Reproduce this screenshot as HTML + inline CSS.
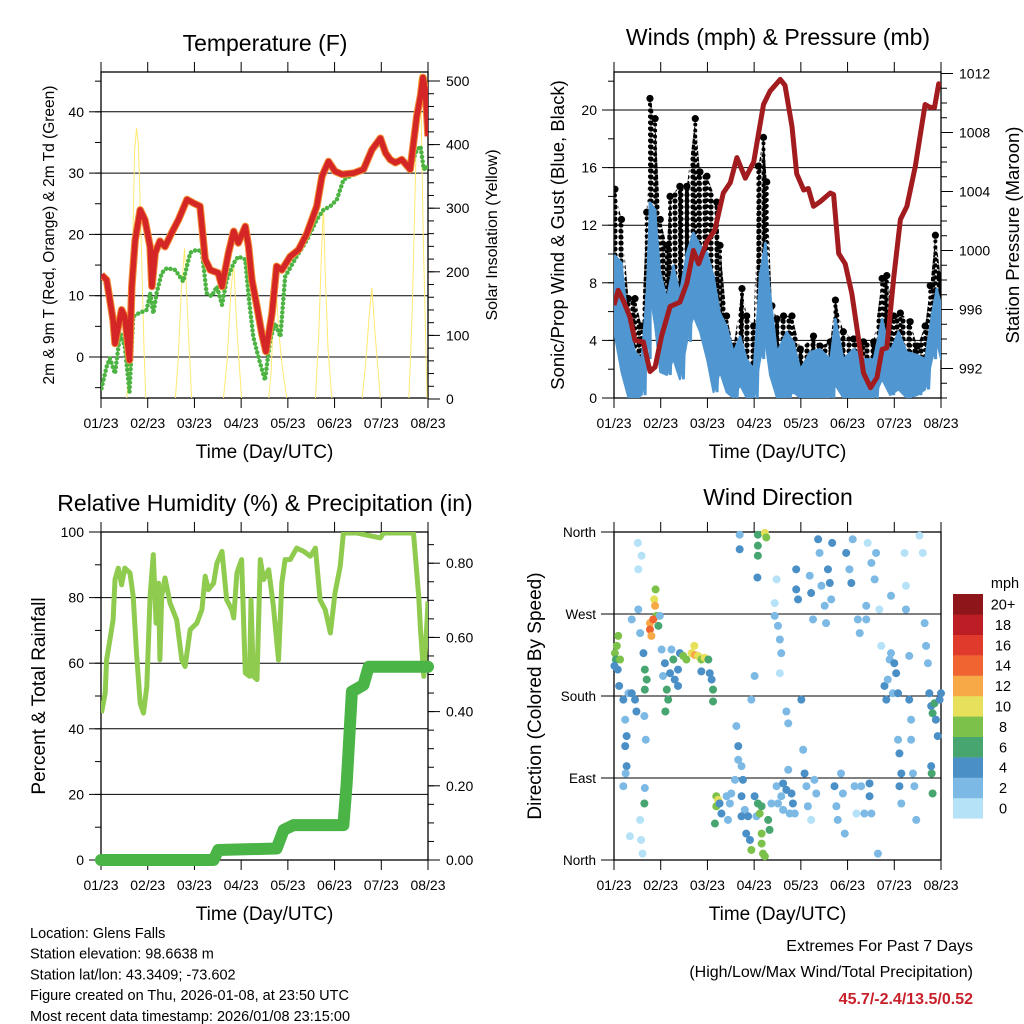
<!DOCTYPE html>
<html><head><meta charset="utf-8"><style>
html,body{margin:0;padding:0;background:#fff;}
svg{display:block;font-family:"Liberation Sans",Arial,sans-serif;}
</style></head><body>
<svg id="fig" width="1024" height="1024" viewBox="0 0 1024 1024" xmlns="http://www.w3.org/2000/svg">
<defs>
<clipPath id="c1"><rect x="101" y="72" width="327" height="326"/></clipPath>
<clipPath id="c2"><rect x="614" y="72" width="327" height="326"/></clipPath>
<clipPath id="c3"><rect x="101" y="532" width="327" height="328"/></clipPath>
<clipPath id="c4"><rect x="610" y="528" width="335" height="336"/></clipPath>
<pattern id="dots" width="6" height="6" patternUnits="userSpaceOnUse"><circle cx="3" cy="3" r="2.6" fill="#000"/></pattern>
</defs>
</svg>
<script>
// ---------- Temperature panel data ----------
const tempT=[0.01,0.12,0.19,0.26,0.3,0.37,0.44,0.51,0.61,0.66,0.73,0.84,0.94,1.05,1.09,1.16,1.26,1.37,1.51,1.66,1.84,1.98,2.12,2.23,2.34,2.51,2.59,2.73,2.84,2.94,3.09,3.16,3.23,3.34,3.44,3.53,3.66,3.76,3.87,4.05,4.23,4.41,4.62,4.73,4.87,5.01,5.16,5.41,5.62,5.8,5.98,6.09,6.19,6.3,6.44,6.62,6.76,6.84,6.89,6.94,6.99,7.0];
const tempV=[13.4,12.6,9.3,6,2.2,5,7.7,6.6,-0.5,11.5,19,24,22.4,18,11.5,17,18.9,18,20.2,22.4,25.7,25.1,24.6,15.9,14.2,13.7,11.5,17,20.5,18.6,21.3,18,12.6,8.2,3.9,0.9,7.1,14.8,14.2,16.4,17.5,20.2,24.6,29.5,31.9,30.3,29.8,30,30.6,33.8,35.7,33.3,32.2,31.7,32.2,30.6,39.3,42.6,45.6,43.7,37.7,36];
const dewT=[0.01,0.12,0.19,0.3,0.41,0.51,0.61,0.69,0.8,0.98,1.05,1.12,1.19,1.3,1.41,1.59,1.76,1.91,2.05,2.16,2.26,2.37,2.48,2.59,2.69,2.84,2.94,3.09,3.16,3.26,3.37,3.51,3.62,3.73,3.84,3.94,4.19,4.41,4.62,4.76,4.91,5.05,5.19,5.41,5.62,5.8,5.98,6.09,6.19,6.44,6.62,6.73,6.84,6.91,6.98,7.0];
const dewV=[-5.1,-1.6,-0.2,-2.7,3.9,1.7,-5.7,6.6,7.1,7.7,10.4,7.1,10.4,13.7,14.5,14.2,12.3,17,17.5,17.2,10.4,9.9,11.5,8.5,12.6,15.3,16.4,15.9,9.9,3.3,0,-3.8,2.8,5.5,3.3,13.1,16.4,19.1,22.4,24,24.6,25.7,28.9,29.8,30.6,33.6,34.9,33,32.2,31.9,30.3,33.3,34.4,30.6,31.1,30.6];
const solarT=[0,0.55,0.62,0.68,0.72,0.76,0.80,0.86,0.92,0.96,1.59,1.65,1.72,1.79,1.85,1.94,2.62,2.70,2.78,2.84,2.90,3.01,3.59,3.64,3.70,3.73,3.80,3.88,3.98,4.59,4.66,4.72,4.76,4.80,4.86,4.94,5.59,5.67,5.74,5.80,5.86,5.98,6.59,6.66,6.74,6.80,6.84,6.90,6.98,7.0];
const solarV=[0,0,80,250,390,426,400,250,80,0,0,60,170,237,140,0,0,60,170,214,120,0,0,40,140,209,110,50,0,0,100,230,302,200,80,0,0,60,130,175,110,0,0,130,380,500,512,250,0,0];
// ---------- Wind / pressure data ----------
const windT=[0.02,0.16,0.31,0.45,0.59,0.70,0.77,0.88,0.99,1.13,1.27,1.41,1.56,1.70,1.84,1.99,2.13,2.27,2.41,2.56,2.70,2.84,2.99,3.13,3.24,3.34,3.49,3.70,3.84,3.99,4.20,4.41,4.63,4.74,4.91,5.13,5.34,5.56,5.74,5.91,6.09,6.27,6.49,6.66,6.81,6.91,7.0];
const windHi=[9.9,9.4,5,3.2,2.7,7.3,13.6,13.1,8.7,6.9,9.2,7.3,10.1,11.5,10.6,10.1,8.5,5.9,5,3.2,4.3,2.7,2,8.7,10.8,7.3,3.2,4.6,3.9,2,3.2,3.4,2.7,5.5,2.7,3.4,2.7,2.7,5.5,3.2,4.6,3.2,3,2.7,5.9,7.6,6.5];
const windLo=[4.3,1.8,0,0,0.2,2.7,7.3,5,1.8,1.6,2.7,1.3,3.9,5.7,4.6,2.7,0.4,1.8,0.4,0,0.9,0,0,2.7,3.9,1.6,0,0,0.4,0,0,0,0,0.9,0,0,0,0,1.3,0.2,0.6,0,0.2,0.6,2.7,3.9,2.7];
const gustT=[0.02,0.16,0.31,0.45,0.59,0.70,0.77,0.88,0.99,1.13,1.20,1.41,1.56,1.74,1.84,1.99,2.20,2.27,2.41,2.56,2.74,2.84,2.99,3.09,3.20,3.27,3.38,3.49,3.63,3.81,3.99,4.27,4.41,4.63,4.74,4.91,5.13,5.34,5.56,5.74,5.84,5.99,6.13,6.34,6.49,6.66,6.77,6.88,6.99];
const gustV=[14.5,12.4,6.9,6.9,5,12.9,20.8,19.4,12.4,10.6,14,14.7,14.7,19.4,15.7,15.4,13.6,10.6,5.7,3.6,7.6,5.7,5,16.1,18.1,15,6.4,5.5,5.7,5.7,3.4,4.3,3.6,3.9,6.8,4.6,4.1,3.9,3.9,8.3,8.5,5.7,5.9,5.3,3.6,5,7.8,11.3,8.5];
const presT=[0,0.09,0.2,0.34,0.45,0.63,0.77,0.88,1.02,1.2,1.41,1.56,1.7,1.81,1.99,2.16,2.34,2.49,2.63,2.81,2.99,3.2,3.34,3.56,3.66,3.81,3.91,4.06,4.16,4.27,4.41,4.63,4.7,4.81,4.95,5.09,5.34,5.49,5.63,5.74,5.84,5.99,6.13,6.27,6.45,6.66,6.77,6.86,6.95,7.0];
const presV=[996.3,997.3,996.6,995.5,993.9,993.8,991.8,992.1,994.2,996.2,996.5,997.8,1000.0,999.1,1000.6,1001.4,1003.9,1004.6,1006.3,1004.9,1006.0,1009.9,1010.8,1011.6,1011.2,1008.4,1005.2,1004.1,1004.2,1003.0,1003.3,1003.9,1003.8,999.8,999.1,997.1,991.7,990.7,991.4,993.3,993.4,998.2,1002.1,1003.0,1005.7,1009.9,1009.7,1009.7,1011.3,1011.2];
// ---------- RH / precip data ----------
const rhT=[0.01,0.09,0.12,0.19,0.26,0.3,0.37,0.44,0.51,0.62,0.69,0.76,0.84,0.91,0.98,1.05,1.12,1.18,1.23,1.26,1.3,1.37,1.48,1.62,1.73,1.8,1.91,2.05,2.16,2.23,2.3,2.41,2.48,2.59,2.69,2.8,2.84,2.91,3.01,3.09,3.18,3.21,3.26,3.34,3.41,3.48,3.59,3.69,3.8,3.87,3.94,4.05,4.19,4.34,4.48,4.59,4.69,4.8,4.91,5.01,5.12,5.19,5.48,5.98,6.05,6.69,6.8,6.84,6.91,6.98,7.0];
const rhV=[44.8,50.9,61,67.1,73.2,85.5,89,83.9,89,87.5,80.4,63.1,47.8,44.8,52.9,80.4,93.1,72.2,84.4,61,80.4,86,78.3,73.2,61,59,70.2,72.2,76.3,86.5,82.4,84.4,90.5,94.1,79.3,76.3,73.8,87.5,91.6,57,56,79.3,56,55,91.6,85.5,88.5,77.3,61,84.4,91.6,91.6,95.1,94.1,92.6,95.1,79.3,76.3,69.2,81.4,89.5,99.7,99.7,98.2,99.7,99.7,80.4,70.2,56,73.2,78.8];
const precT=[0,2.41,2.51,3.76,3.91,4.12,5.19,5.26,5.37,5.62,5.73,7.0];
const precV=[0,0,0.027,0.031,0.081,0.094,0.094,0.207,0.454,0.472,0.521,0.521];
// ---------- Wind direction data ----------
const wdT=[0.02,0.06,0.09,0.04,0.08,0.11,0.13,0.01,0.20,0.24,0.27,0.24,0.27,0.25,0.20,0.31,0.38,0.45,0.48,0.52,0.52,0.59,0.51,0.38,0.56,0.63,0.66,0.70,0.66,0.65,0.68,0.66,0.65,0.56,0.58,0.61,0.34,0.77,0.77,0.80,0.86,0.88,0.89,0.91,0.95,0.84,0.98,1.02,1.09,1.05,1.13,1.16,1.10,1.20,1.27,1.30,1.37,1.41,1.48,1.55,1.66,1.72,1.73,1.80,1.87,1.94,2.02,2.05,2.09,2.12,2.12,1.87,1.37,1.23,2.19,2.19,2.23,2.16,2.26,2.30,2.41,2.44,2.48,2.51,2.59,2.62,2.66,2.66,2.73,2.76,2.73,2.80,2.73,2.83,2.87,2.91,2.94,3.01,3.05,3.08,3.12,3.16,3.16,3.19,3.23,3.16,3.30,3.33,3.37,2.69,2.69,3.08,3.08,3.08,3.23,3.26,3.07,3.01,2.94,3.44,3.48,3.51,3.55,3.58,3.55,3.44,3.48,3.51,3.58,3.62,3.62,3.69,3.73,3.76,3.80,3.83,3.87,3.69,3.73,3.90,3.90,3.94,4.01,4.05,4.08,4.12,4.15,4.19,4.22,4.26,4.22,4.29,4.33,4.37,4.40,4.44,4.51,4.54,4.58,4.62,4.65,4.67,4.72,4.76,4.79,4.86,4.90,4.94,4.97,5.04,5.08,5.11,5.15,5.19,5.22,5.26,5.29,5.36,5.40,5.40,5.43,5.51,5.58,5.61,5.47,5.47,5.51,5.65,5.68,5.72,5.79,5.83,5.86,5.90,5.93,5.93,5.97,6.00,6.04,6.08,6.08,6.11,6.15,6.11,6.15,6.22,6.25,6.25,6.32,6.32,6.36,6.36,6.40,6.43,6.47,6.54,6.61,6.65,6.68,6.72,6.75,6.79,6.82,6.86,6.89,6.93,6.97,7.00,6.80,6.82,6.79];
const wdDir=[227,235,246,220,209,191,220,213,176,154,136,125,103,95,81,183,183,176,163,275,319,334,348,264,249,227,209,198,187,158,132,79,62,44,22,7,26,260,253,246,286,279,297,268,257,264,268,231,216,202,187,176,163,205,220,198,209,227,224,220,227,235,225,224,220,222,220,205,198,187,174,207,191,231,70,59,66,40,62,51,70,44,62,73,88,147,125,110,103,88,70,55,48,29,48,22,11,70,48,62,51,59,29,7,4,18,44,33,62,341,357,334,345,357,359,354,310,202,176,282,308,257,242,227,205,268,81,62,70,84,55,77,99,51,73,62,51,163,150,319,297,286,176,121,95,81,59,312,293,264,44,88,73,352,337,301,279,260,319,304,286,348,81,59,44,95,73,29,337,319,304,352,81,51,264,249,81,51,279,264,348,326,308,337,84,70,51,7,275,235,191,176,198,220,290,227,183,216,205,183,132,117,95,81,62,337,301,275,224,176,154,132,95,81,44,356,337,260,235,216,183,169,161,172,154,136,176,183,95,73,103];
const wdSpd=[9,8,8,6,4,4,9,5,4,3,4,4,4,3,2,3,4,4,4,2,1,1,1,2,3,5,6,7,6,3,3,3,6,1,1,1,1,13,14,12,10,12,8,8,7,15,3,3,4,3,6,6,7,4,6,4,4,4,9,8,10,11,12,10,9,11,7,4,4,6,7,4,4,3,9,8,11,6,4,5,3,3,3,2,3,2,4,2,3,4,4,2,5,4,5,4,9,4,3,6,8,7,8,9,8,8,6,7,3,4,3,7,7,7,10,9,4,2,2,1,1,2,3,2,1,2,3,2,3,4,2,4,3,3,4,4,2,2,2,4,4,4,4,3,4,3,2,2,4,3,1,2,3,4,3,3,3,3,4,4,2,4,4,3,3,2,3,2,4,3,4,2,2,1,3,3,2,3,3,3,1,3,3,2,4,4,2,2,1,1,4,4,3,2,3,2,3,4,4,4,3,4,4,4,3,1,1,2,3,4,3,2,2,3,2,1,1,2,2,3,4,4,6,7,4,4,4,4,6,6,4];
const speedColors=['#b6e2f8','#7cb9e4','#4a8fc6','#47a56f','#7cc14a','#e6e05a','#f6a946','#ef6430','#df3a2b','#bd1d25','#8e161a'];
const speedLabels=['0','2','4','6','8','10','12','14','16','18','20+'];
const dayLabels=['01/23','02/23','03/23','04/23','05/23','06/23','07/23','08/23'];

const svg=document.getElementById('fig');
const NS='http://www.w3.org/2000/svg';
function mk(tag,attrs,parent){const e=document.createElementNS(NS,tag);for(const k in attrs)e.setAttribute(k,attrs[k]);(parent||svg).appendChild(e);return e;}
function txt(s,x,y,size,anchor,parent,extra){const e=mk('text',Object.assign({x:x,y:y,'font-size':size,'text-anchor':anchor||'middle',fill:'#000'},extra||{}),parent);e.textContent=s;return e;}

const P={
 p1:{x0:101,x1:428,y0:72,y1:398},
 p2:{x0:614,x1:941,y0:72,y1:398},
 p3:{x0:101,x1:428,y0:532,y1:860},
 p4:{x0:614,x1:941,y0:532,y1:860}
};
function xs(p,d){return p.x0+d/7*(p.x1-p.x0);}
const yTemp=v=>357-v*6.13;
const ySolar=v=>399-v*0.636;
const yWind=v=>398-v*14.4;
const yPres=v=>398-(v-990)*14.75;
const yRH=v=>860-v*3.28;
const yPrec=v=>860-v*371;
const yDir=v=>860-v*(328/360);

function ptsStr(p,T,V,fy){return T.map((t,i)=>xs(p,t).toFixed(1)+','+fy(V[i]).toFixed(1)).join(' ');}

function frame(p,name){
 const g=mk('g',{});
 
 
 mk('rect',{x:p.x0,y:p.y0,width:p.x1-p.x0,height:p.y1-p.y0,fill:'none',stroke:'#000','stroke-width':1.3},g);
 for(let d=0;d<=7;d++){const x=xs(p,d);
  mk('line',{x1:x,y1:p.y0,x2:x,y2:p.y0-10,stroke:'#000','stroke-width':1},g);
  mk('line',{x1:x,y1:p.y1,x2:x,y2:p.y1+10,stroke:'#000','stroke-width':1},g);
  const t=txt(dayLabels[d],x,p.y1+30,14,'middle',g);
  
  
 }
 const xt=txt('Time (Day/UTC)',(p.x0+p.x1)/2,p.y1+60,19,'middle',g);
 
 
 return g;
}
function yAxis(p,g,majors,minors,fy,side,fmt,grid){
 const x=side==='left'?p.x0:p.x1, s=side==='left'?-1:1;
 minors.forEach(v=>{const y=fy(v);if(y<p.y0-1||y>p.y1+1)return;mk('line',{x1:x,y1:y,x2:x+s*6,y2:y,stroke:'#000','stroke-width':1},g);});
 majors.forEach(v=>{const y=fy(v);
  if(grid)mk('line',{x1:p.x0,y1:y,x2:p.x1,y2:y,stroke:'#000','stroke-width':1},g);
  mk('line',{x1:x,y1:y,x2:x+s*12,y2:y,stroke:'#000','stroke-width':1},g);
  const t=txt(fmt(v),side==='left'?x-17:x+18,y+5,14,side==='left'?'end':'start',g);
  
  
 });
}
function range(a,b,s){const r=[];for(let v=a;v<=b+1e-9;v+=s)r.push(+v.toFixed(4));return r;}
function vtitle(s,x,y,size,g,name){const t=txt(s,x,y,size,'middle',g,{transform:'rotate(-90 '+x+' '+y+')'});
 
 }
function title(s,x,y,name){const t=txt(s,x,y,23,'middle');
 
 }
function interp(T,V,t){if(t<=T[0])return V[0];for(let i=1;i<T.length;i++){if(t<=T[i]){const f=(t-T[i-1])/(T[i]-T[i-1]);return V[i-1]+f*(V[i]-V[i-1]);}}return V[V.length-1];}

// ===== Panel 1 =====
title('Temperature (F)',265,51,'temperature-title');
let g1=frame(P.p1,'temperature');
yAxis(P.p1,g1,range(0,40,10),range(-5,45,5),yTemp,'left',v=>String(v),true);
yAxis(P.p1,g1,range(0,500,100),range(0,500,20),ySolar,'right',v=>String(v),false);
vtitle('2m & 9m T (Red, Orange) & 2m Td (Green)',54,235,15.5,g1,'temperature-y-title');
vtitle('Solar Insolation (Yellow)',497,235,16,g1,'solar-y-title');
const c1=mk('g',{'clip-path':'url(#c1)'});


const sol=mk('polyline',{points:ptsStr(P.p1,solarT,solarV,ySolar),fill:'none',stroke:'#ffe970','stroke-width':1},c1);


const dew=mk('polyline',{points:ptsStr(P.p1,dewT,dewV,yTemp),fill:'none',stroke:'#4db343','stroke-width':4.5,'stroke-linecap':'round','stroke-dasharray':'0 4.5'},c1);


const t9=mk('polyline',{points:ptsStr(P.p1,tempT,tempV,yTemp),fill:'none',stroke:'#f28a33','stroke-width':7.5,'stroke-linejoin':'round'},c1);


const t2=mk('polyline',{points:ptsStr(P.p1,tempT,tempV,yTemp),fill:'none',stroke:'#d42626','stroke-width':5.5,'stroke-linejoin':'round'},c1);



// ===== Panel 2 =====
title('Winds (mph) & Pressure (mb)',778,45,'winds-title');
let g2=frame(P.p2,'winds');
yAxis(P.p2,g2,range(0,20,4),range(0,22,2),yWind,'left',v=>String(v),true);
yAxis(P.p2,g2,range(992,1012,4),range(990,1012,1),yPres,'right',v=>String(v),false);
vtitle('Sonic/Prop Wind & Gust (Blue, Black)',564,235,18.5,g2,'wind-y-title');
vtitle('Station Pressure (Maroon)',1019,235,18.5,g2,'pressure-y-title');
const c2=mk('g',{'clip-path':'url(#c2)'});


const gustBand=ptsStr(P.p2,gustT,gustV,yWind)+' '+ptsStr(P.p2,windT.slice().reverse(),windLo.slice().reverse(),yWind);
const gb=mk('polygon',{points:gustBand,fill:'url(#dots)',stroke:'none'},c2);


gustT.forEach((t,i)=>{const x=xs(P.p2,t);const wl=interp(windT,windHi,t);
 const ln=mk('line',{x1:x,y1:yWind(gustV[i]),x2:x,y2:yWind(wl),stroke:'#000','stroke-width':4,'stroke-linecap':'round','stroke-dasharray':'0 6'},c2);
 
 
 const d=mk('circle',{cx:x,cy:yWind(gustV[i]),r:3.6,fill:'#000'},c2);
 
 });
const wb=mk('polygon',{points:ptsStr(P.p2,windT,windHi,yWind)+' '+ptsStr(P.p2,windT.slice().reverse(),windLo.slice().reverse(),yWind),fill:'#5096d1',stroke:'#5096d1','stroke-width':2,'stroke-linejoin':'round'},c2);


const zz=[];windT.forEach((t,i)=>{zz.push(xs(P.p2,t).toFixed(1)+','+yWind(windHi[i]).toFixed(1));zz.push((xs(P.p2,t)+3.5).toFixed(1)+','+yWind(windLo[i]).toFixed(1));});
const wz=mk('polyline',{points:zz.join(' '),fill:'none',stroke:'#5096d1','stroke-width':3},c2);


const pr=mk('polyline',{points:ptsStr(P.p2,presT,presV,yPres),fill:'none',stroke:'#a21b1e','stroke-width':5,'stroke-linejoin':'round'},c2);



// ===== Panel 3 =====
title('Relative Humidity (%) & Precipitation (in)',265,511,'humidity-title');
let g3=frame(P.p3,'humidity');
yAxis(P.p3,g3,range(0,100,20),range(0,100,10),yRH,'left',v=>String(v),true);
yAxis(P.p3,g3,range(0,0.8,0.2),range(0,0.85,0.05),yPrec,'right',v=>v.toFixed(2),false);
vtitle('Percent & Total Rainfall',45,696,19,g3,'humidity-y-title');
const c3=mk('g',{'clip-path':'url(#c3)'});


const rh=mk('polyline',{points:ptsStr(P.p3,rhT,rhV,yRH),fill:'none',stroke:'#8fcb4f','stroke-width':5,'stroke-linejoin':'round'},c3);


const pc=mk('polyline',{points:ptsStr(P.p3,precT,precV,yPrec),fill:'none',stroke:'#4bb446','stroke-width':12,'stroke-linejoin':'round','stroke-linecap':'round'},svg);



// ===== Panel 4 =====
title('Wind Direction',778,505,'wind-direction-title');
let g4=frame(P.p4,'wind-direction');
const dirNames=['North','East','South','West','North'];
[0,90,180,270,360].forEach((v,i)=>{const y=yDir(v);
 mk('line',{x1:601,y1:y,x2:P.p4.x1,y2:y,stroke:'#000','stroke-width':1},g4);
 const t=txt(dirNames[i],596,y+5,13.5,'end',g4);
 
 });
vtitle('Direction (Colored By Speed)',541,696,19,g4,'direction-y-title');
const c4=mk('g',{'clip-path':'url(#c4)'});


wdT.forEach((t,i)=>{const bin=Math.min(10,Math.floor(wdSpd[i]/2));
 const d=mk('circle',{cx:xs(P.p4,t),cy:yDir(wdDir[i]),r:4,fill:speedColors[bin]},c4);
 
 });
// colorbar
const cb=mk('g',{});


const cbt=txt('mph',1005,588,14.5,'middle',cb);


for(let i=0;i<11;i++){const y=594+(10-i)*20.4;
 const r=mk('rect',{x:953,y:y,width:30,height:20.6,fill:speedColors[i]},cb);
 
 
 const t=txt(speedLabels[i],1003,y+15.5,14.5,'middle',cb);
 
 }

// ===== footer =====
const info=['Location: Glens Falls','Station elevation: 98.6638 m','Station lat/lon: 43.3409; -73.602','Figure created on Thu, 2026-01-08, at 23:50 UTC','Most recent data timestamp: 2026/01/08 23:15:00'];
info.forEach((s,i)=>{const t=txt(s,30,938+i*20.7,14.5,'start');
 
 });
const e1=txt('Extremes For Past 7 Days',973,951,16,'end');


const e2=txt('(High/Low/Max Wind/Total Precipitation)',973,977,16,'end');


const e3=txt('45.7/-2.4/13.5/0.52',973,1004,16,'end',null,{fill:'#c8202a','font-weight':'bold'});


</script>
</body></html>
